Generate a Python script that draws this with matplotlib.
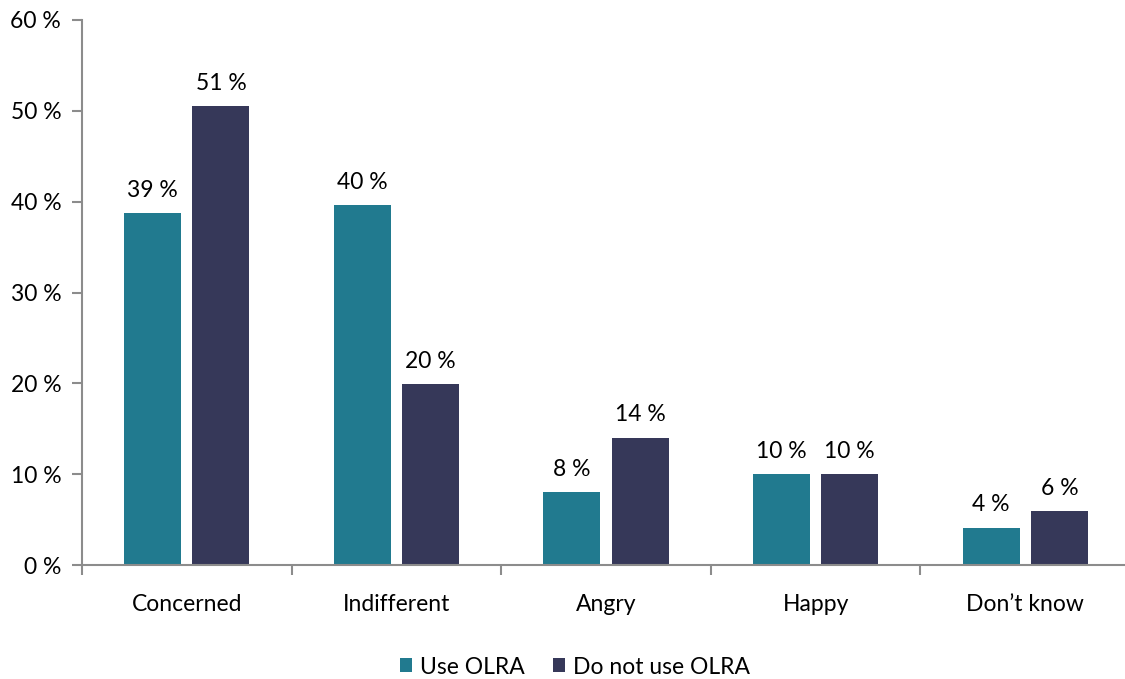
import matplotlib.pyplot as plt
import numpy as np

plt.rcParams['font.family'] = ['Lato', 'DejaVu Sans']

categories = ["Concerned", "Indifferent", "Angry", "Happy", "Don\u2019t know"]
use_olra = [38.7, 39.6, 8.0, 10.0, 4.1]
no_olra = [50.5, 19.9, 14.0, 10.0, 5.9]
use_labels = ["39 %", "40 %", "8 %", "10 %", "4 %"]
no_labels = ["51 %", "20 %", "14 %", "10 %", "6 %"]
series_names = ["Use OLRA", "Do not use OLRA"]
yticks = [0, 10, 20, 30, 40, 50, 60]

teal = "#217A8F"
navy = "#363859"
grey = "#8C8C8C"
fs = 16.5

fig = plt.figure(figsize=(11.25, 6.79), dpi=100)
ax = fig.add_axes([82 / 1125, 114 / 679, 1048 / 1125, 545 / 679])

x = np.arange(len(categories))
w = 0.272
off = 0.163
b1 = ax.bar(x - off, use_olra, w, color=teal, label=series_names[0])
b2 = ax.bar(x + off, no_olra, w, color=navy, label=series_names[1])

for bars, labs in ((b1, use_labels), (b2, no_labels)):
    for rect, lab in zip(bars, labs):
        ax.annotate(lab, (rect.get_x() + rect.get_width() / 2, rect.get_height()),
                    xytext=(0, 9), textcoords="offset points",
                    ha="center", va="bottom", fontsize=fs)

ax.set_xlim(-0.5, len(categories) - 0.5)
ax.set_ylim(0, 60)
ax.set_yticks(yticks)
ax.set_yticklabels([f"{t} %" for t in yticks], fontsize=fs)
ax.set_xticks(np.arange(len(categories) + 1) - 0.5)
ax.set_xticklabels([])
ax.set_xticks(x, minor=True)
ax.set_xticklabels(categories, minor=True, fontsize=fs)
ax.tick_params(axis="x", which="minor", length=0, pad=21)
ax.tick_params(axis="x", which="major", length=7, width=1.5, color=grey)
ax.tick_params(axis="y", length=7, width=1.5, color=grey, pad=8)

for s in ("top", "right"):
    ax.spines[s].set_visible(False)
for s in ("left", "bottom"):
    ax.spines[s].set_color(grey)
    ax.spines[s].set_linewidth(1.5)

fig.legend(handles=[b1, b2], loc="center", bbox_to_anchor=(575 / 1125, 12 / 679),
           ncol=2, frameon=False, fontsize=fs, handlelength=0.55, handleheight=0.55,
           handletextpad=0.35, columnspacing=1.2)

fig.savefig("out.png", dpi=100)
